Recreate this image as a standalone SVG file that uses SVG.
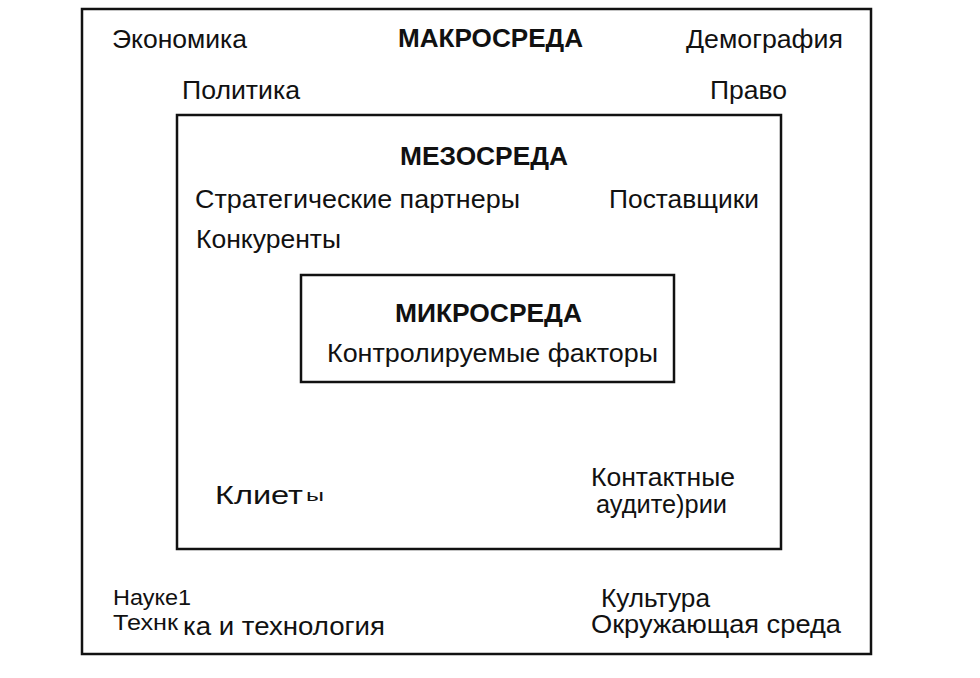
<svg xmlns="http://www.w3.org/2000/svg" width="980" height="678" viewBox="0 0 980 678">
<style>
  .box{fill:none;stroke:#111;stroke-width:2.5}
  text{font-family:"Liberation Sans",Arial,sans-serif;font-size:25px;fill:#111}
  .b{font-weight:bold}
  .s{font-size:22px}
</style>
<rect width="980" height="678" fill="#fff"/>
<g id="macro">
  <rect class="box" x="82" y="9" width="789" height="645"/>
  <text x="112" y="48" textLength="135" lengthAdjust="spacingAndGlyphs">Экономика</text>
  <text class="b" x="398" y="47" textLength="185" lengthAdjust="spacingAndGlyphs">МАКРОСРЕДА</text>
  <text x="686" y="48" textLength="157" lengthAdjust="spacingAndGlyphs">Демография</text>
  <text x="182" y="99" textLength="118" lengthAdjust="spacingAndGlyphs">Политика</text>
  <text x="710" y="99" textLength="77" lengthAdjust="spacingAndGlyphs">Право</text>
  <text class="s" x="113" y="605" textLength="78" lengthAdjust="spacingAndGlyphs">Науке1</text>
  <text class="s" x="113" y="630" textLength="65" lengthAdjust="spacingAndGlyphs">Технк</text>
  <text x="183" y="635" textLength="202" lengthAdjust="spacingAndGlyphs">ка и технология</text>
  <text x="601" y="607" textLength="109" lengthAdjust="spacingAndGlyphs">Культура</text>
  <text x="591" y="633" textLength="250" lengthAdjust="spacingAndGlyphs">Окружающая среда</text>
</g>
<g id="meso">
  <rect class="box" x="177" y="115" width="604" height="434"/>
  <text class="b" x="400" y="165" textLength="168" lengthAdjust="spacingAndGlyphs">МЕЗОСРЕДА</text>
  <text x="195" y="208" textLength="325" lengthAdjust="spacingAndGlyphs">Стратегические партнеры</text>
  <text x="609" y="208" textLength="150" lengthAdjust="spacingAndGlyphs">Поставщики</text>
  <text x="196" y="248" textLength="145" lengthAdjust="spacingAndGlyphs">Конкуренты</text>
  <text x="215" y="504" textLength="88" lengthAdjust="spacingAndGlyphs">Клиет</text>
  <text x="306" y="501" style="font-size:17px" textLength="18" lengthAdjust="spacingAndGlyphs">ы</text>
  <text x="591" y="486" textLength="144" lengthAdjust="spacingAndGlyphs">Контактные</text>
  <text x="596" y="513" textLength="131" lengthAdjust="spacingAndGlyphs">аудите)рии</text>
</g>
<g id="micro">
  <rect class="box" x="301" y="275" width="373" height="107"/>
  <text class="b" x="395" y="322" textLength="187" lengthAdjust="spacingAndGlyphs">МИКРОСРЕДА</text>
  <text x="327" y="362" textLength="331" lengthAdjust="spacingAndGlyphs">Контролируемые факторы</text>
</g>
<g id="connectors"/>
</svg>
